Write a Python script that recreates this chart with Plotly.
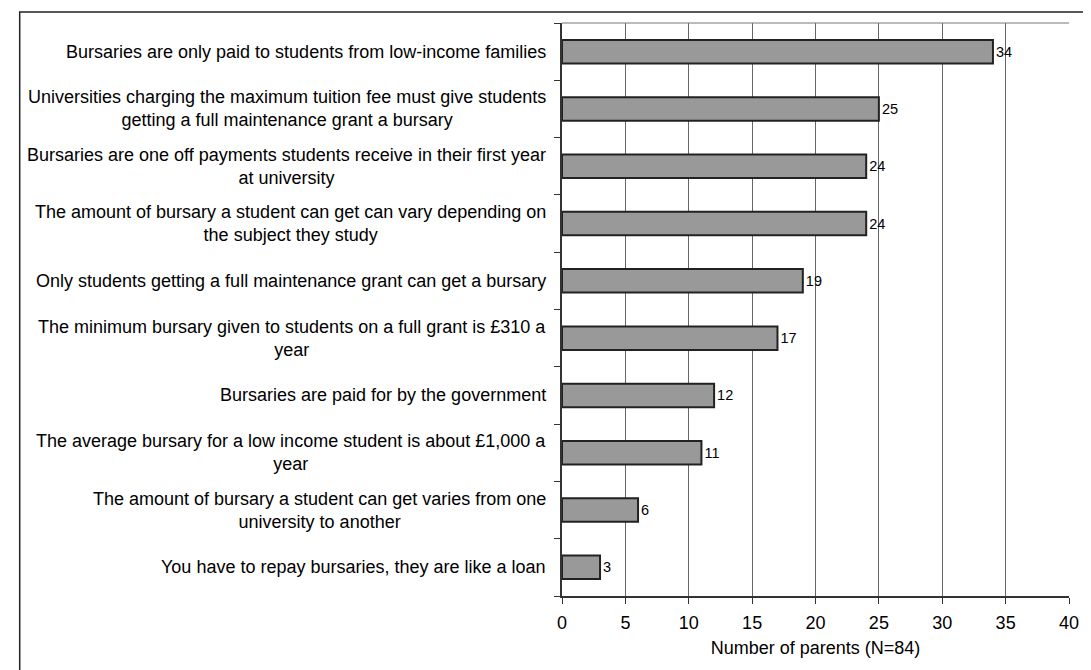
import plotly.graph_objects as go

categories = [
    "Bursaries are only paid to students from low-income families",
    "Universities charging the maximum tuition fee must give students<br>getting a full maintenance grant a bursary",
    "Bursaries are one off payments students receive in their first year<br>at university",
    "The amount of bursary a student can get can vary depending on<br>the subject they study",
    "Only students getting a full maintenance grant can get a bursary",
    "The minimum bursary given to students on a full grant is £310 a<br>year",
    "Bursaries are paid for by the government",
    "The average bursary for a low income student is about £1,000 a<br>year",
    "The amount of bursary a student can get varies from one<br>university to another",
    "You have to repay bursaries, they are like a loan",
]
values = [34, 25, 24, 24, 19, 17, 12, 11, 6, 3]
x_ticks = [0, 5, 10, 15, 20, 25, 30, 35, 40]
x_title = "Number of parents (N=84)"

FONT = "Liberation Sans, Arial, sans-serif"
ids = list(range(len(categories)))

# page body has an 8px default margin; figure is sized so the plot area lands
# at x 562..1079, y 23..596 of the window
PAGE_OFF = 8
W, H = 1083, 662
ML, MT = 562 - PAGE_OFF, 23 - PAGE_OFF
MR = PAGE_OFF + W - 1079
MB = PAGE_OFF + H - 596
PW, PH = 1079 - 562, 596 - 23

fig = go.Figure()
fig.add_trace(go.Bar(
    x=values, y=ids, orientation="h",
    marker=dict(color="#999999", line=dict(color="#222222", width=2)),
    width=0.41,
    text=[str(v) for v in values], textposition="outside",
    textfont=dict(family=FONT, size=14.5, color="#000"),
    cliponaxis=False,
))

annotations = []
for i, c in zip(ids, categories):
    annotations.append(dict(
        x=0, xref="paper", y=i, yref="y", text=c, showarrow=False,
        xanchor="right", yanchor="middle", align="center", xshift=-14,
        font=dict(family=FONT, size=18, color="#000"),
    ))

fig.update_layout(
    width=W, height=H,
    margin=dict(l=ML, r=MR, t=MT, b=MB, pad=0),
    paper_bgcolor="white", plot_bgcolor="white",
    showlegend=False,
    annotations=annotations,
    shapes=[
        dict(type="rect", xref="paper", yref="paper",
             x0=(9 - 562) / PW, x1=1.3, y0=-0.3, y1=1 + (23 - 12) / PH,
             line=dict(color="#222", width=1.5), layer="below"),
        dict(type="line", xref="paper", yref="paper", x0=0, x1=1, y0=1, y1=1,
             line=dict(color="#777", width=1)),
    ],
)
fig.update_xaxes(
    range=[0, 40], tickvals=x_ticks, ticktext=[str(t) for t in x_ticks],
    showgrid=True, gridcolor="#666666", gridwidth=1,
    showline=True, linecolor="#333", linewidth=1.5, mirror=False,
    ticks="outside", ticklen=6, tickcolor="#333", tickwidth=1,
    ticklabelstandoff=4,
    tickfont=dict(family=FONT, size=18, color="#000"),
    title=dict(text=x_title, font=dict(family=FONT, size=18, color="#000"), standoff=9),
    zeroline=False, fixedrange=True,
)
fig.update_yaxes(
    range=[len(categories) - 0.5, -0.5], tickmode="array",
    tickvals=[i - 0.5 for i in range(len(categories) + 1)],
    ticktext=[""] * (len(categories) + 1),
    showgrid=False, showline=True, linecolor="#333", linewidth=1.5,
    ticks="outside", ticklen=6, tickcolor="#333",
    zeroline=False, fixedrange=True,
)

fig.write_html("out.html")
